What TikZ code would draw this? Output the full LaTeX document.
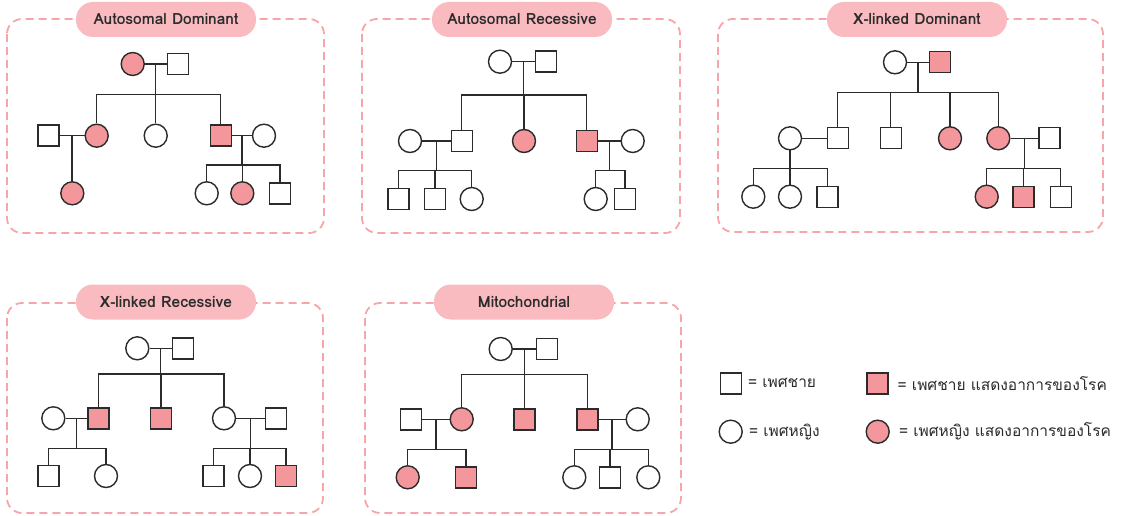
\documentclass[tikz,border=0pt]{standalone}
\usepackage{fontspec}
\setmainfont{Loma}[Script=Thai]
\usetikzlibrary{positioning}
\definecolor{sick}{HTML}{F4979C}
\definecolor{tagpink}{HTML}{F9BBC0}
\definecolor{framepink}{HTML}{F6A5A8}
\definecolor{ink}{HTML}{2B2B2B}
\tikzset{
  male/.style={draw=ink, line width=1.4pt, fill=white, minimum size=21pt, inner sep=0pt},
  female/.style={circle, draw=ink, line width=1.4pt, fill=white, minimum size=23pt, inner sep=0pt},
  ill/.style={fill=sick},
  link/.style={draw=ink, line width=1.4pt},
  panel/.style={draw=framepink, line width=1.8pt, dash pattern=on 8pt off 5pt, rounded corners=15pt},
  tagbox/.style={fill=tagpink, rounded corners=17pt, minimum width=180pt, minimum height=35pt,
    inner sep=0pt, text=ink, font=\bfseries\fontsize{15.5}{18}\selectfont},
  keytext/.style={inner sep=0pt, text=ink, font=\fontsize{15.5}{18}\selectfont}
}
\begin{document}
\begin{tikzpicture}[x=1pt, y=-1pt]
  \useasboundingbox (0,0) rectangle (1127,516);

  % frames and titles
  \draw[panel] (7,19) rectangle (324,233);
  \draw[panel] (362,19) rectangle (680,233);
  \draw[panel] (718,19) rectangle (1103,232);
  \draw[panel] (7,303) rectangle (323,513);
  \draw[panel] (365,303) rectangle (681,513);
  \node[tagbox] (ta) at (166,19.5) {Autosomal Dominant};
  \node[tagbox] (tb) at (522,19.5) {Autosomal Recessive};
  \node[tagbox] (tc) at (917,19.5) {X-linked Dominant};
  \node[tagbox] (td) at (166,302) {X-linked Recessive};
  \node[tagbox] (te) at (524,302) {Mitochondrial};

  % Autosomal Dominant
  \node[female,ill] (a1) at (132.7,64) {};
  \node[male] (a2) at (177.7,64) {};
  \node[male] (a3) at (48.3,135.7) {};
  \node[female,ill] (a4) at (96.7,135.7) {};
  \node[female] (a5) at (155.7,135.7) {};
  \node[male,ill] (a6) at (220.7,135.7) {};
  \node[female] (a7) at (264,135.7) {};
  \node[female,ill] (a8) at (72.3,193.3) {};
  \node[female] (a9) at (206.7,193.3) {};
  \node[female,ill] (a10) at (242.3,193.3) {};
  \node[male] (a11) at (280,193.3) {};
  \coordinate (sibA1) at (0,94.3);
  \coordinate (sibA2) at (0,165);
  \path (a1.east) -- (a2.west) coordinate[midway] (a1a2);
  \path (a3.east) -- (a4.west) coordinate[midway] (a3a4);
  \path (a6.east) -- (a7.west) coordinate[midway] (a6a7);
  \draw[link] (a1) -- (a2);
  \draw[link] (a1a2) -- (a1a2 |- sibA1);
  \draw[link] (a4.north) |- (a6 |- sibA1) -- (a6.north);
  \draw[link] (a5.north) -- (a5 |- sibA1);
  \draw[link] (a3) -- (a4);
  \draw[link] (a3a4) -- (a3a4 |- a8.north);
  \draw[link] (a6) -- (a7);
  \draw[link] (a6a7) -- (a6a7 |- sibA2);
  \draw[link] (a9.north) |- (a11 |- sibA2) -- (a11.north);
  \draw[link] (a10.north) -- (a10 |- sibA2);

  % Autosomal Recessive
  \node[female] (b1) at (500,61.7) {};
  \node[male] (b2) at (546,61.7) {};
  \node[female] (b3) at (410,141) {};
  \node[male] (b4) at (461.7,141) {};
  \node[female,ill] (b5) at (524,141) {};
  \node[male,ill] (b6) at (586.7,141) {};
  \node[female] (b7) at (632.7,141) {};
  \node[male] (b8) at (398.3,199) {};
  \node[male] (b9) at (435,199) {};
  \node[female] (b10) at (471.7,199) {};
  \node[female] (b11) at (595.7,199) {};
  \node[male] (b12) at (625,199) {};
  \coordinate (sibB1) at (0,95);
  \coordinate (sibB2) at (0,170.7);
  \path (b1.east) -- (b2.west) coordinate[midway] (b1b2);
  \path (b3.east) -- (b4.west) coordinate[midway] (b3b4);
  \path (b6.east) -- (b7.west) coordinate[midway] (b6b7);
  \draw[link] (b1) -- (b2);
  \draw[link] (b1b2) -- (b1b2 |- sibB1);
  \draw[link] (b4.north) |- (b6 |- sibB1) -- (b6.north);
  \draw[link] (b5.north) -- (b5 |- sibB1);
  \draw[link] (b3) -- (b4);
  \draw[link] (b3b4) -- (b3b4 |- sibB2);
  \draw[link] (b8.north) |- (b10 |- sibB2) -- (b10.north);
  \draw[link] (b9.north) -- (b9 |- sibB2);
  \draw[link] (b6) -- (b7);
  \draw[link] (b6b7) -- (b6b7 |- sibB2);
  \draw[link] (b11.north) |- (b12 |- sibB2) -- (b12.north);

  % X-linked Dominant
  \node[female] (c1) at (895,62.3) {};
  \node[male,ill] (c2) at (940,62.3) {};
  \node[female] (c3) at (790,138.3) {};
  \node[male] (c4) at (837.7,138.3) {};
  \node[male] (c5) at (890.7,138.3) {};
  \node[female,ill] (c6) at (950,138.3) {};
  \node[female,ill] (c7) at (998.3,138.3) {};
  \node[male] (c8) at (1049.3,138.3) {};
  \node[female] (c9) at (753.3,196.7) {};
  \node[female] (c10) at (790,196.7) {};
  \node[male] (c11) at (827.3,196.7) {};
  \node[female,ill] (c12) at (986.7,196.7) {};
  \node[male,ill] (c13) at (1023.3,196.7) {};
  \node[male] (c14) at (1060.7,196.7) {};
  \coordinate (sibC1) at (0,92.3);
  \coordinate (sibC2) at (0,168.3);
  \path (c1.east) -- (c2.west) coordinate[midway] (c1c2);
  \path (c7.east) -- (c8.west) coordinate[midway] (c7c8);
  \draw[link] (c1) -- (c2);
  \draw[link] (c1c2) -- (c1c2 |- sibC1);
  \draw[link] (c4.north) |- (c7 |- sibC1) -- (c7.north);
  \draw[link] (c5.north) -- (c5 |- sibC1);
  \draw[link] (c6.north) -- (c6 |- sibC1);
  \draw[link] (c3) -- (c4);
  \draw[link] (c3.south) -- (c3 |- sibC2);
  \draw[link] (c9.north) |- (c11 |- sibC2) -- (c11.north);
  \draw[link] (c10.north) -- (c10 |- sibC2);
  \draw[link] (c7) -- (c8);
  \draw[link] (c7c8) -- (c7c8 |- sibC2);
  \draw[link] (c12.north) |- (c14 |- sibC2) -- (c14.north);
  \draw[link] (c13.north) -- (c13 |- sibC2);

  % X-linked Recessive
  \node[female] (d1) at (137.3,348.3) {};
  \node[male] (d2) at (182.7,348.3) {};
  \node[female] (d3) at (53.3,418.3) {};
  \node[male,ill] (d4) at (98.3,418.3) {};
  \node[male,ill] (d5) at (161,418.3) {};
  \node[female] (d6) at (224,418.3) {};
  \node[male] (d7) at (276,418.3) {};
  \node[male] (d8) at (48.3,476) {};
  \node[female] (d9) at (106,476) {};
  \node[male] (d10) at (213.3,476) {};
  \node[female] (d11) at (250,476) {};
  \node[male,ill] (d12) at (286,476) {};
  \coordinate (sibD1) at (0,374);
  \coordinate (sibD2) at (0,448.3);
  \path (d1.east) -- (d2.west) coordinate[midway] (d1d2);
  \path (d3.east) -- (d4.west) coordinate[midway] (d3d4);
  \path (d6.east) -- (d7.west) coordinate[midway] (d6d7);
  \draw[link] (d1) -- (d2);
  \draw[link] (d1d2) -- (d1d2 |- sibD1);
  \draw[link] (d4.north) |- (d6 |- sibD1) -- (d6.north);
  \draw[link] (d5.north) -- (d5 |- sibD1);
  \draw[link] (d3) -- (d4);
  \draw[link] (d3d4) -- (d3d4 |- sibD2);
  \draw[link] (d8.north) |- (d9 |- sibD2) -- (d9.north);
  \draw[link] (d6) -- (d7);
  \draw[link] (d6d7) -- (d6d7 |- sibD2);
  \draw[link] (d10.north) |- (d12 |- sibD2) -- (d12.north);
  \draw[link] (d11.north) -- (d11 |- sibD2);

  % Mitochondrial
  \node[female] (e1) at (500.7,349) {};
  \node[male] (e2) at (546.7,349) {};
  \node[male] (e3) at (411,419.3) {};
  \node[female,ill] (e4) at (461.7,419.3) {};
  \node[male,ill] (e5) at (524.3,419.3) {};
  \node[male,ill] (e6) at (587.3,419.3) {};
  \node[female] (e7) at (637.7,419.3) {};
  \node[female,ill] (e8) at (407.7,477.3) {};
  \node[male,ill] (e9) at (466,477.3) {};
  \node[female] (e10) at (574.3,477.3) {};
  \node[male] (e11) at (610,477.3) {};
  \node[female] (e12) at (648.3,477.3) {};
  \coordinate (sibE1) at (0,374.3);
  \coordinate (sibE2) at (0,449.3);
  \path (e1.east) -- (e2.west) coordinate[midway] (e1e2);
  \path (e3.east) -- (e4.west) coordinate[midway] (e3e4);
  \path (e6.east) -- (e7.west) coordinate[midway] (e6e7);
  \draw[link] (e1) -- (e2);
  \draw[link] (e1e2) -- (e1e2 |- sibE1);
  \draw[link] (e4.north) |- (e6 |- sibE1) -- (e6.north);
  \draw[link] (e5.north) -- (e5 |- sibE1);
  \draw[link] (e3) -- (e4);
  \draw[link] (e3e4) -- (e3e4 |- sibE2);
  \draw[link] (e8.north) |- (e9 |- sibE2) -- (e9.north);
  \draw[link] (e6) -- (e7);
  \draw[link] (e6e7) -- (e6e7 |- sibE2);
  \draw[link] (e10.north) |- (e12 |- sibE2) -- (e12.north);
  \draw[link] (e11.north) -- (e11 |- sibE2);

  % legend
  \node[male] (km) at (730.7,383.3) {};
  \node[male,ill] (kma) at (877.3,383.3) {};
  \node[female] (kf) at (730.7,431.7) {};
  \node[female,ill] (kfa) at (877.7,431.7) {};
  \node[keytext, right=6pt of km] (tm) {= เพศชาย};
  \node[keytext, right=9pt of kma] (tma) {= เพศชาย แสดงอาการของโรค};
  \node[keytext, right=6pt of kf] (tf) {= เพศหญิง};
  \node[keytext, right=9pt of kfa] (tfa) {= เพศหญิง แสดงอาการของโรค};
\end{tikzpicture}
\end{document}
